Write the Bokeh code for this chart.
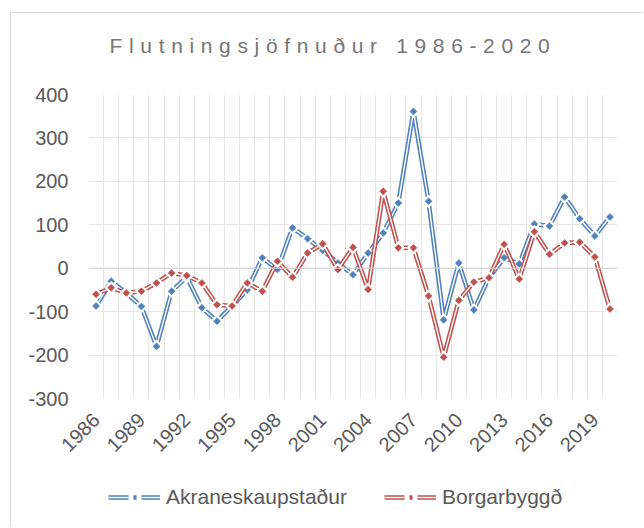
import math
from bokeh.plotting import figure
from bokeh.models import Div, Span, Legend, LegendItem, FixedTicker
from bokeh.layouts import column
from bokeh.embed import file_html
from bokeh.resources import INLINE

years = list(range(1986, 2021))
akranes = [-87, -30, -57, -88, -180, -53, -20, -91, -122, -87, -50, 24, -3, 93, 68,
           41, 12, -15, 35, 81, 150, 361, 154, -119, 12, -96, -22, 24, 10, 102,
           97, 164, 114, 74, 118]
borgarbyggd = [-60, -45, -57, -53, -34, -11, -17, -34, -84, -87, -34, -53, 16, -21, 35,
               56, -3, 48, -49, 177, 47, 47, -64, -205, -74, -32, -22, 55, -25, 84,
               32, 58, 60, 26, -94]
series_names = ["Akraneskaupstaður", "Borgarbyggð"]
series_colors = ["#4f81bd", "#c0504d"]
title_text = "Flutningsjöfnuður 1986-2020"
x_tick_years = list(range(1986, 2020, 3))
y_ticks = list(range(-300, 401, 100))

FONT = "Liberation Sans"
LABEL_COLOR = "#595959"

title_div = Div(
    text=('<div style="box-sizing:border-box;width:632px;font-family:\'Liberation Sans\',Arial,sans-serif;'
          'font-size:21px;letter-spacing:6.65px;color:#767676;text-align:center;'
          'padding-top:18px;padding-left:12px;white-space:nowrap;">' + title_text + '</div>'),
    width=632, height=67, margin=0)

p = figure(width=632, height=390, output_backend="svg", toolbar_location=None,
           x_range=(1985.5, 2020.5), y_range=(-300, 400),
           min_border_left=77, min_border_right=26, min_border_top=14, min_border_bottom=72,
           background_fill_color="white", border_fill_color="white", margin=0)
p.outline_line_color = None

# grids
p.xgrid.ticker = FixedTicker(ticks=[1985.5 + i for i in range(36)])
p.ygrid.ticker = FixedTicker(ticks=y_ticks)
p.xgrid.grid_line_color = "#e6e6e6"
p.ygrid.grid_line_color = "#e6e6e6"

# axes
p.xaxis.ticker = FixedTicker(ticks=x_tick_years)
p.xaxis.major_label_overrides = {y: str(y) for y in x_tick_years}
p.xaxis.major_label_orientation = math.pi / 4
p.yaxis.ticker = FixedTicker(ticks=y_ticks)
p.yaxis.major_label_overrides = {v: str(v) for v in y_ticks}
for ax in (p.xaxis, p.yaxis):
    ax.axis_line_color = None
    ax.major_tick_line_color = None
    ax.minor_tick_line_color = None
    ax.major_tick_out = 0
    ax.major_tick_in = 0
    ax.major_label_text_font = FONT
    ax.major_label_text_font_size = "20px"
    ax.major_label_text_color = LABEL_COLOR
p.yaxis.major_label_standoff = 20
p.xaxis.major_label_standoff = 18

p.add_layout(Span(location=0, dimension="width", line_color="#d0d0d0", line_width=1))

for vals, col in zip([akranes, borgarbyggd], series_colors):
    p.line(years, vals, line_color=col, line_width=4.5)
    p.line(years, vals, line_color="white", line_width=1.4)
    p.scatter(years, vals, marker="square", angle=math.pi / 4, size=9,
              fill_color="white", line_color="white", line_width=1)
    p.scatter(years, vals, marker="square", angle=math.pi / 4, size=5,
              fill_color=col, line_color=col, line_width=0.5)

# separate strip for the legend
pl = figure(width=632, height=57, output_backend="svg", toolbar_location=None,
            x_range=(0, 1), y_range=(0, 1), x_axis_type=None, y_axis_type=None,
            min_border_left=0, min_border_right=0, min_border_top=0, min_border_bottom=0,
            background_fill_color="white", border_fill_color="white", margin=0)
pl.outline_line_color = None
pl.grid.visible = False

items = []
for name, col in zip(series_names, series_colors):
    g1 = pl.line(x=[0.5], y=[math.nan], line_color=col, line_width=4.5, line_dash="20 5 3 5 30")
    g2 = pl.line(x=[0.5], y=[math.nan], line_color="white", line_width=1.4, line_dash="20 13 30")
    items.append(LegendItem(label=name, renderers=[g1, g2]))

legend = Legend(items=items, orientation="horizontal", location=(20, 18),
                glyph_width=52, glyph_height=20, label_standoff=6, spacing=37,
                padding=0, margin=0, border_line_color=None, background_fill_alpha=0,
                label_text_font=FONT, label_text_font_size="21px",
                label_text_color=LABEL_COLOR, label_height=20)
pl.add_layout(legend, "center")

layout = column(title_div, p, pl, margin=(12, 0, 0, 10),
                styles={"border-left": "1px solid #d9d9d9", "border-top": "1px solid #d9d9d9"})

open("out.html", "w").write(file_html(layout, INLINE))
